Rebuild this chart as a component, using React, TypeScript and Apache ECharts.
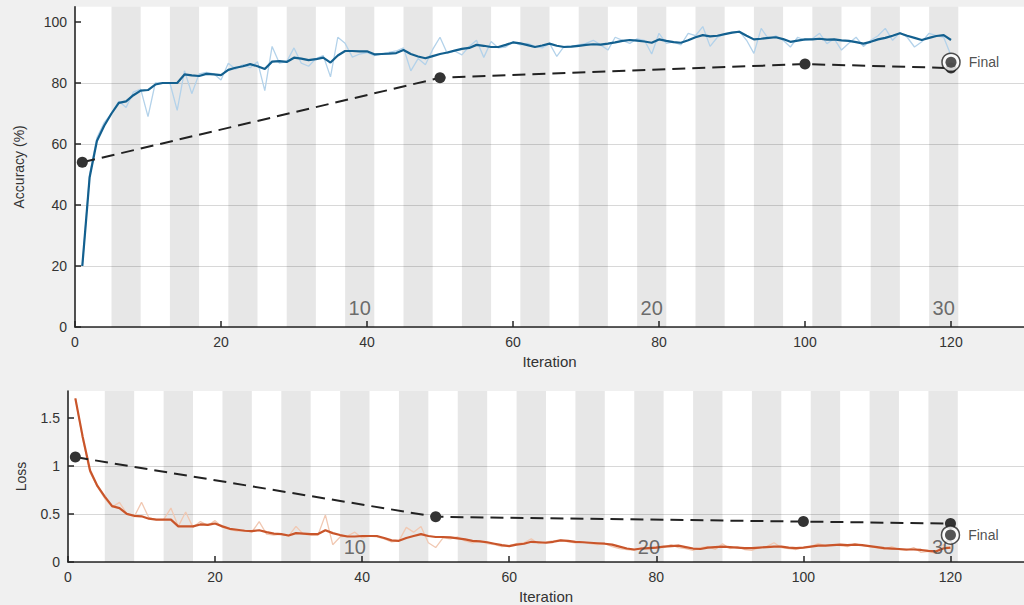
import React, { useEffect, useRef } from "react";
import * as echarts from "echarts";

const accSmooth = [20, 49, 61, 66, 70, 73.5, 74, 76, 77.5, 77.7, 79.5, 80, 80, 80, 82.8, 82.5, 82.3, 83, 82.8, 82.6,
  84.3, 85, 85.5, 86.2, 85.5, 84.6, 87, 87.2, 86.9, 88.3, 88, 87.5, 87.8, 88.3, 86.7, 89, 90.5, 90.5, 90.4, 90.4,
  89.4, 89.5, 89.6, 89.8, 90.8, 89.5, 88.7, 88.1, 88.8, 89.5, 90, 90.6, 91.2, 91.5, 92.5, 92.2, 91.8, 91.8, 92.5, 93.3,
  93, 92.4, 91.8, 92.3, 92.9, 92.2, 91.8, 91.9, 92.2, 92.5, 92.7, 92.6, 92.9, 93.3, 93.8, 94.1, 93.9, 93.6, 93.2, 94.3,
  93.8, 93.4, 93.2, 94, 95, 95.7, 95.3, 95.5, 96, 96.5, 96.8, 95.5, 94.3, 94.5, 94.8, 95, 94.4, 93.5, 93.9, 94.3,
  94.3, 94.5, 94.2, 94.3, 94, 93.8, 93.4, 92.9, 93.5, 94.3, 94.8, 95.5, 96.3, 95.5, 94.8, 94.1, 94.8, 95.4, 95.7, 94.1];

const accRaw = [20, 50, 62, 67, 70, 74, 72, 77, 78, 69, 80, 80, 80, 71, 84, 76.5, 83, 83.5, 83, 81,
  86.5, 84.5, 86, 85, 87, 77.5, 92, 86.5, 87, 91.5, 86.5, 85.5, 88, 89, 82, 95, 93, 88.5, 89.5, 90,
  89, 89.5, 90, 90.5, 91.5, 84, 88, 86, 91, 95, 89.7, 90.5, 89.2, 92, 94, 88.4, 93.6, 91.5, 91.8, 93.5,
  92.5, 93, 92, 91.5, 93, 88.7, 92, 92, 92.5, 93, 94, 92.5, 90.8, 95, 94, 93, 94.5, 94, 89.5, 96.3,
  93, 93.5, 92.5, 96.3, 95.5, 98.5, 92, 95, 96, 96.5, 97, 94, 89.7, 97.9, 94.5, 95.5, 94, 91.8, 95, 94,
  94.5, 96.3, 92.9, 94.5, 90.8, 93, 95, 92, 94, 95.5, 97.9, 94, 96.5, 95, 91.8, 93.5, 96.3, 95.5, 95, 89];

const lossSmooth = [1.7, 1.3, 0.95, 0.79, 0.68, 0.58, 0.56, 0.5, 0.48, 0.475, 0.45, 0.44, 0.44, 0.44, 0.37, 0.37, 0.37, 0.39, 0.385, 0.4,
  0.37, 0.345, 0.335, 0.325, 0.32, 0.33, 0.31, 0.295, 0.29, 0.275, 0.3, 0.295, 0.29, 0.29, 0.33, 0.3, 0.28, 0.265, 0.265, 0.27,
  0.27, 0.27, 0.25, 0.225, 0.22, 0.25, 0.27, 0.29, 0.27, 0.26, 0.26, 0.255, 0.245, 0.235, 0.22, 0.215, 0.205, 0.19, 0.175, 0.165,
  0.18, 0.19, 0.21, 0.205, 0.2, 0.21, 0.225, 0.22, 0.21, 0.205, 0.2, 0.195, 0.19, 0.18, 0.16, 0.14, 0.13, 0.14, 0.145, 0.15,
  0.16, 0.165, 0.17, 0.155, 0.14, 0.135, 0.15, 0.155, 0.16, 0.155, 0.15, 0.145, 0.145, 0.15, 0.155, 0.16, 0.16, 0.15, 0.145, 0.15,
  0.16, 0.17, 0.17, 0.175, 0.18, 0.175, 0.18, 0.175, 0.165, 0.155, 0.145, 0.14, 0.135, 0.13, 0.13, 0.125, 0.115, 0.11, 0.14, 0.15];

const lossRaw = [1.7, 1.28, 0.93, 0.78, 0.66, 0.57, 0.62, 0.5, 0.47, 0.62, 0.46, 0.44, 0.44, 0.56, 0.37, 0.52, 0.36, 0.42, 0.38, 0.43,
  0.36, 0.34, 0.32, 0.33, 0.31, 0.42, 0.29, 0.28, 0.29, 0.27, 0.37, 0.29, 0.28, 0.28, 0.49, 0.18, 0.26, 0.27, 0.31, 0.25,
  0.27, 0.26, 0.24, 0.21, 0.22, 0.36, 0.31, 0.37, 0.2, 0.15, 0.25, 0.24, 0.26, 0.22, 0.2, 0.22, 0.19, 0.18, 0.16, 0.17,
  0.19, 0.2, 0.24, 0.19, 0.21, 0.22, 0.23, 0.21, 0.2, 0.21, 0.19, 0.18, 0.19, 0.16, 0.14, 0.13, 0.12, 0.15, 0.14, 0.16,
  0.15, 0.18, 0.15, 0.14, 0.12, 0.15, 0.16, 0.13, 0.19, 0.14, 0.16, 0.13, 0.12, 0.15, 0.16, 0.2, 0.15, 0.14, 0.13, 0.15,
  0.16, 0.19, 0.17, 0.18, 0.17, 0.16, 0.19, 0.17, 0.16, 0.15, 0.13, 0.16, 0.13, 0.12, 0.15, 0.1, 0.11, 0.09, 0.18, 0.14];

const valIters = [1, 50, 100, 120];
const valAcc = [54, 81.7, 86.2, 84.9];
const valLoss = [1.09, 0.47, 0.42, 0.4];
const finalAcc = 86.8;
const finalLoss = 0.28;

const itersPerEpoch = 4;
const numEpochs = 30;
const epochLabels = [10, 20, 30];
const accTicks = [0, 20, 40, 60, 80, 100];
const lossTicks = [0, 0.5, 1, 1.5];

const FONT = "Liberation Sans, Arial, sans-serif";

export default function App() {
  const ref = useRef<HTMLDivElement>(null);
  useEffect(() => {
    document.body.style.margin = "0";
    const chart = echarts.init(ref.current!, null, { renderer: "svg" });
    const pairs = (ys: number[]) => ys.map((v, i) => [i + 1, v]);
    const valPairs = (ys: number[]) => ys.map((v, i) => [valIters[i], v]);
    const bands: any[] = [];
    for (let k = 2; k <= numEpochs; k += 2) {
      bands.push([{ xAxis: itersPerEpoch * (k - 1) + 1 }, { xAxis: itersPerEpoch * k + 1 }]);
    }
    const xAxisBase = (gi: number) => ({
      type: "value",
      gridIndex: gi,
      min: 0,
      max: 130,
      interval: 20,
      name: "Iteration",
      nameLocation: "middle",
      nameGap: 27,
      nameTextStyle: { fontSize: 15, color: "#333", fontFamily: FONT },
      axisLine: { show: true, lineStyle: { color: "#262626", width: 1.6 } },
      axisTick: { show: true, inside: true, length: 6, lineStyle: { color: "#262626", width: 1.5 } },
      axisLabel: { fontSize: 14, color: "#333", margin: 8, fontFamily: FONT, showMaxLabel: false },
      splitLine: { show: false },
    });
    const epochSeries = (xi: number, yv: number) => ({
      type: "scatter",
      xAxisIndex: xi,
      yAxisIndex: xi,
      symbolSize: 1,
      itemStyle: { color: "rgba(0,0,0,0)" },
      silent: true,
      z: 5,
      label: {
        show: true,
        position: "inside",
        formatter: (p: any) => String(p.value[2]),
        fontSize: 20,
        color: "#4a4a4a",
        fontFamily: FONT,
      },
      data: epochLabels.map((e) => [itersPerEpoch * e - 1, yv, e]),
    });
    const stripeSeries = (xi: number) => ({
      type: "line",
      xAxisIndex: xi,
      yAxisIndex: xi,
      data: [],
      silent: true,
      markArea: { silent: true, itemStyle: { color: "rgba(0,0,0,0.095)" }, data: bands },
    });
    const finalSeries = (xi: number, v: number) => [
      {
        type: "scatter",
        xAxisIndex: xi,
        yAxisIndex: xi,
        symbol: "circle",
        symbolSize: 18,
        itemStyle: { color: "#ffffff", borderColor: "#222", borderWidth: 1.5 },
        z: 6,
        label: { show: true, position: "right", distance: 8, formatter: "Final", fontSize: 14, color: "#222", fontFamily: FONT },
        data: [[valIters[valIters.length - 1], v]],
      },
      {
        type: "scatter",
        xAxisIndex: xi,
        yAxisIndex: xi,
        symbol: "circle",
        symbolSize: 11,
        itemStyle: { color: "#2a2a2a" },
        z: 7,
        data: [[valIters[valIters.length - 1], v]],
      },
    ];
    const valSeries = (xi: number, ys: number[]) => ({
      type: "line",
      xAxisIndex: xi,
      yAxisIndex: xi,
      data: valPairs(ys),
      symbol: "circle",
      symbolSize: 11,
      itemStyle: { color: "#333" },
      lineStyle: { color: "#222", width: 2, type: [13, 7] },
      z: 4,
    });
    chart.setOption({
      animation: false,
      backgroundColor: "#f0f0f0",
      grid: [
        { left: 75, top: 6.75, width: 954.5, height: 320.25, show: true, backgroundColor: "#ffffff", borderWidth: 0 },
        { left: 68, top: 391, width: 957.7, height: 171.3, show: true, backgroundColor: "#ffffff", borderWidth: 0 },
      ],
      xAxis: [xAxisBase(0), xAxisBase(1)],
      yAxis: [
        {
          type: "value",
          gridIndex: 0,
          min: 0,
          max: 105,
          interval: 20,
          name: "Accuracy (%)",
          nameLocation: "middle",
          nameGap: 49,
          nameTextStyle: { fontSize: 14, color: "#333", fontFamily: FONT },
          axisLine: { show: true, lineStyle: { color: "#262626", width: 1.6 } },
          axisTick: { show: true, inside: true, length: 6, customValues: accTicks, lineStyle: { color: "#262626", width: 1.5 } },
          axisLabel: { fontSize: 14, color: "#333", margin: 8, fontFamily: FONT, customValues: accTicks },
          splitLine: { show: true, showMaxLine: false, lineStyle: { color: "#d8d8d8", width: 1 } },
        },
        {
          type: "value",
          gridIndex: 1,
          min: 0,
          max: 1.777,
          interval: 0.5,
          name: "Loss",
          nameLocation: "middle",
          nameGap: 40,
          nameTextStyle: { fontSize: 14, color: "#333", fontFamily: FONT },
          axisLine: { show: true, lineStyle: { color: "#262626", width: 1.6 } },
          axisTick: { show: true, inside: true, length: 6, customValues: lossTicks, lineStyle: { color: "#262626", width: 1.5 } },
          axisLabel: { fontSize: 14, color: "#333", margin: 8, fontFamily: FONT, customValues: lossTicks },
          splitLine: { show: true, showMaxLine: false, lineStyle: { color: "#d8d8d8", width: 1 } },
        },
      ],
      series: [
        stripeSeries(0),
        stripeSeries(1),
        epochSeries(0, 6.2),
        epochSeries(1, 0.16),
        {
          type: "line", xAxisIndex: 0, yAxisIndex: 0, data: pairs(accRaw), symbol: "none",
          lineStyle: { color: "#b3d2ea", width: 1.3 }, z: 3,
        },
        {
          type: "line", xAxisIndex: 0, yAxisIndex: 0, data: pairs(accSmooth), symbol: "none",
          lineStyle: { color: "#13608f", width: 2.2 }, z: 3,
        },
        {
          type: "line", xAxisIndex: 1, yAxisIndex: 1, data: pairs(lossRaw), symbol: "none",
          lineStyle: { color: "#f1c8b2", width: 1.3 }, z: 3,
        },
        {
          type: "line", xAxisIndex: 1, yAxisIndex: 1, data: pairs(lossSmooth), symbol: "none",
          lineStyle: { color: "#c9552a", width: 2.2 }, z: 3,
        },
        valSeries(0, valAcc),
        valSeries(1, valLoss),
        ...finalSeries(0, finalAcc),
        ...finalSeries(1, finalLoss),
      ],
    });
    return () => chart.dispose();
  }, []);
  return <div ref={ref} style={{ position: "fixed", left: 0, top: 0, width: 1024, height: 605 }} />;
}
